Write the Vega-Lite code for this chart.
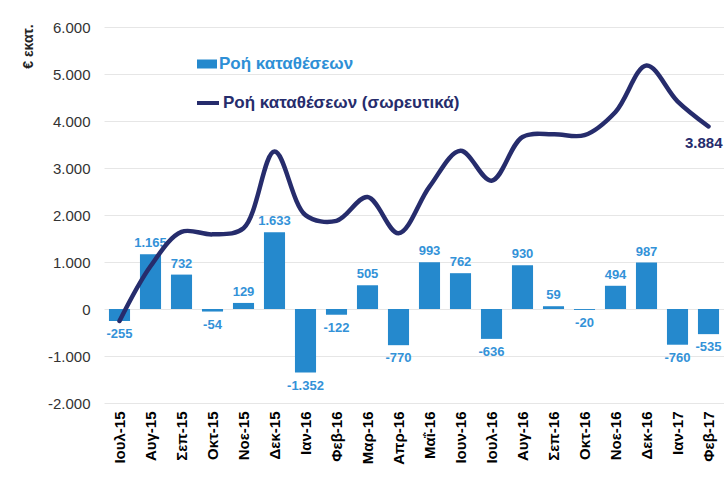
{
  "$schema": "https://vega.github.io/schema/vega-lite/v6.json",
  "width": 620,
  "height": 376,
  "autosize": {"type": "none"},
  "padding": {"left": 104, "top": 27, "right": 0, "bottom": 74},
  "background": "white",
  "config": {
    "font": "Liberation Sans",
    "view": {"stroke": null},
    "locale": {"number": {"decimal": ",", "thousands": ".", "grouping": [3], "currency": ["", " €"], "minus": "-"}}
  },
  "data": {
    "values": [
      {"month": "Ιουλ-15", "flow": -255, "cum": -255},
      {"month": "Αυγ-15", "flow": 1165, "cum": 910},
      {"month": "Σεπ-15", "flow": 732, "cum": 1642},
      {"month": "Οκτ-15", "flow": -54, "cum": 1588},
      {"month": "Νοε-15", "flow": 129, "cum": 1717},
      {"month": "Δεκ-15", "flow": 1633, "cum": 3350},
      {"month": "Ιαν-16", "flow": -1352, "cum": 1998},
      {"month": "Φεβ-16", "flow": -122, "cum": 1876},
      {"month": "Μαρ-16", "flow": 505, "cum": 2381},
      {"month": "Απρ-16", "flow": -770, "cum": 1611},
      {"month": "Μαΐ-16", "flow": 993, "cum": 2604},
      {"month": "Ιουν-16", "flow": 762, "cum": 3366},
      {"month": "Ιουλ-16", "flow": -636, "cum": 2730},
      {"month": "Αυγ-16", "flow": 930, "cum": 3660},
      {"month": "Σεπ-16", "flow": 59, "cum": 3719},
      {"month": "Οκτ-16", "flow": -20, "cum": 3699},
      {"month": "Νοε-16", "flow": 494, "cum": 4193},
      {"month": "Δεκ-16", "flow": 987, "cum": 5180},
      {"month": "Ιαν-17", "flow": -760, "cum": 4420},
      {"month": "Φεβ-17", "flow": -535, "cum": 3884}
    ]
  },
  "encoding": {
    "x": {
      "field": "month", "type": "nominal", "sort": null,
      "scale": {"paddingInner": 0.32, "paddingOuter": 0.16},
      "axis": {
        "title": null, "labelAngle": -90, "labelFontWeight": "bold", "labelFontSize": 15,
        "labelColor": "#000000", "labelPadding": 8, "ticks": false, "domain": false, "grid": false
      }
    }
  },
  "layer": [
    {
      "mark": {"type": "bar", "color": "#2589cd"},
      "encoding": {
        "y": {
          "field": "flow", "type": "quantitative",
          "scale": {"domain": [-2000, 6000], "nice": false},
          "axis": {
            "values": [-2000, -1000, 0, 1000, 2000, 3000, 4000, 5000, 6000],
            "format": ",d", "labelFontSize": 15, "labelColor": "#333333", "ticks": false,
            "labelPadding": 14, "domain": false, "gridColor": "#e6e6e6", "gridWidth": 1,
            "title": "€ εκατ.", "titleFontSize": 14, "titleFontWeight": "bold", "titleColor": "#222222",
            "titleAngle": -90, "titleX": -76, "titleY": 19, "titleAlign": "center", "titleBaseline": "middle"
          }
        },
        "fill": {
          "datum": "Ροή καταθέσεων",
          "scale": {"range": ["#2589cd"]},
          "legend": {
            "title": null, "orient": "none", "legendX": 93, "legendY": 27, "padding": 0,
            "symbolType": "M-1,-0.45H1V0.45H-1Z", "symbolSize": 400, "symbolStrokeWidth": 0,
            "labelFontSize": 17, "labelFontWeight": "bold", "labelColor": "#2e8fd6", "labelOffset": 2, "labelLimit": 400
          }
        }
      }
    },
    {
      "mark": {"type": "rule", "color": "#a6a6a6", "strokeWidth": 1.5},
      "encoding": {"y": {"datum": 0}}
    },
    {
      "transform": [{"filter": "datum.flow >= 0"}],
      "mark": {"type": "text", "fontSize": 13, "fontWeight": "bold", "color": "#3392d8", "baseline": "alphabetic", "dy": -7},
      "encoding": {"y": {"field": "flow", "type": "quantitative"}, "text": {"field": "flow", "type": "quantitative", "format": ",d"}}
    },
    {
      "transform": [{"filter": "datum.flow < 0"}],
      "mark": {"type": "text", "fontSize": 13, "fontWeight": "bold", "color": "#3392d8", "baseline": "alphabetic", "dy": 17},
      "encoding": {"y": {"field": "flow", "type": "quantitative"}, "text": {"field": "flow", "type": "quantitative", "format": ",d"}}
    },
    {
      "mark": {"type": "line", "interpolate": "catmull-rom", "strokeWidth": 4.5, "strokeCap": "round"},
      "encoding": {
        "y": {"field": "cum", "type": "quantitative"},
        "stroke": {
          "datum": "Ροή καταθέσεων (σωρευτικά)",
          "scale": {"range": ["#262c6c"]},
          "legend": {
            "title": null, "orient": "none", "legendX": 91, "legendY": 63, "padding": 0,
            "symbolType": "stroke", "symbolSize": 484, "symbolStrokeWidth": 4,
            "labelFontSize": 17, "labelFontWeight": "bold", "labelColor": "#262c6c", "labelOffset": 2, "labelLimit": 400
          }
        }
      }
    },
    {
      "transform": [{"filter": "datum.month == 'Φεβ-17'"}],
      "mark": {"type": "text", "fontSize": 15, "fontWeight": "bold", "color": "#262c6c", "baseline": "alphabetic", "align": "right", "dx": 14, "dy": 22},
      "encoding": {"y": {"field": "cum", "type": "quantitative"}, "text": {"field": "cum", "type": "quantitative", "format": ",d"}}
    }
  ],
  "resolve": {"scale": {"fill": "independent", "stroke": "independent"}}
}
